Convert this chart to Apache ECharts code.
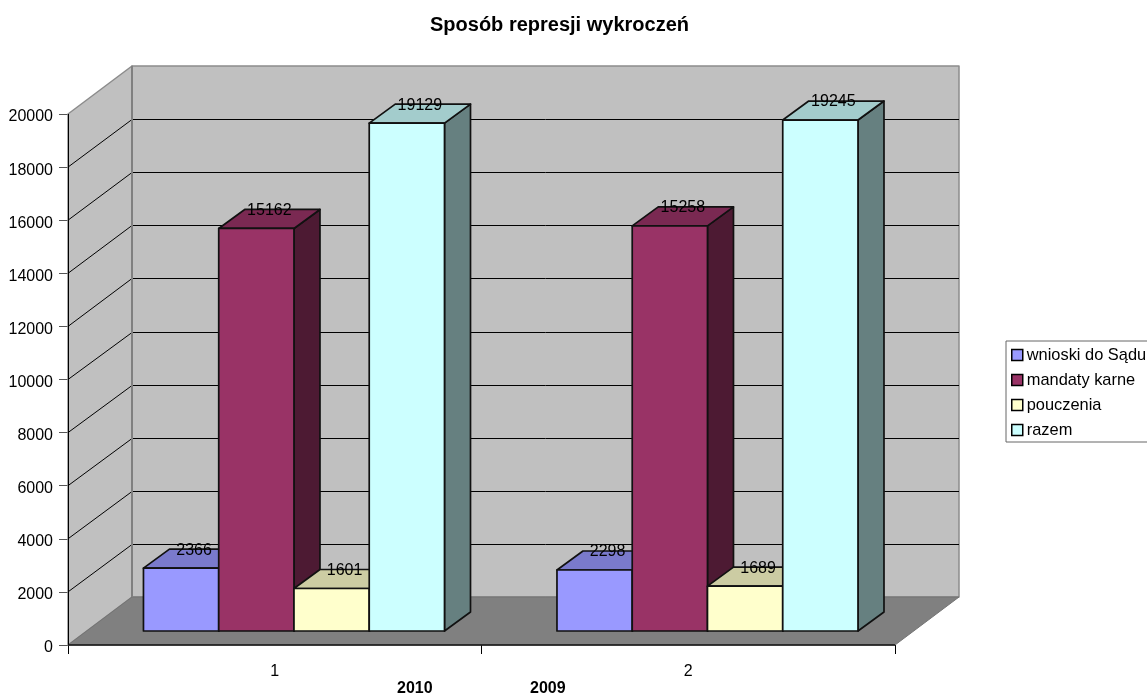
<!DOCTYPE html>
<html><head><meta charset="utf-8">
<style>html,body{margin:0;padding:0;background:#fff}#c{width:1147px;height:696px}</style>
<script src="https://cdn.jsdelivr.net/npm/echarts@6/dist/echarts.min.js"></script>
</head><body><div id="c"></div>
<script>
const categories = ['1', '2'];
const seriesNames = ['wnioski do Sądu', 'mandaty karne', 'pouczenia', 'razem'];
const wnioski = [2366, 2298];
const mandaty = [15162, 15258];
const pouczenia = [1601, 1689];
const razem = [19129, 19245];
const seriesValues = [wnioski, mandaty, pouczenia, razem];
const seriesColors = ['#9999FF', '#993366', '#FFFFCC', '#CCFFFF'];
const yTicks = [0,2000,4000,6000,8000,10000,12000,14000,16000,18000,20000];
const footerLabels = ['2010', '2009'];

const FONT = '"Liberation Sans", Arial, sans-serif';
const WALL = [64, -48];      // wall depth
const BAR_D = [26, -19];     // bar depth
const BAR_FLOOR = [19, -14]; // bar front plane relative to chart front
const GROUP_START = 0.1825, BAR_W = 0.182;

function shade(hex, f) {
  const n = parseInt(hex.slice(1), 16);
  const c = [n >> 16 & 255, n >> 8 & 255, n & 255].map(v => Math.round(v * f));
  return 'rgb(' + c.join(',') + ')';
}
function poly(points, fill, stroke, lw) {
  return {type: 'polygon', shape: {points}, style: {fill, stroke, lineWidth: lw, lineJoin: 'round'}};
}
function line(p, q, stroke, lw) {
  return {type: 'line', shape: {x1: p[0], y1: p[1], x2: q[0], y2: q[1]}, style: {stroke, lineWidth: lw}};
}
function shift(p, d) { return [p[0] + d[0], p[1] + d[1]]; }
function snap(v) { return Math.round(v) + 0.5; }

function renderWalls(params, api) {
  const band = api.size([1, 0])[0];
  const o = api.coord([0, 0]); o[0] -= band / 2;
  const top = api.coord([0, 20000]); top[0] = o[0];
  const r = [o[0] + band * categories.length, o[1]];
  const oB = shift(o, WALL), topB = shift(top, WALL), rB = shift(r, WALL);
  const rtB = [rB[0], topB[1]];
  const g = [];
  g.push(poly([topB, rtB, rB, oB], '#C0C0C0', '#8C8C8C', 1.5));
  g.push(poly([top, topB, oB, o], '#C0C0C0', '#8C8C8C', 1.5));
  g.push(poly([o, oB, rB, r], '#808080', '#737373', 1));
  yTicks.slice(1, -1).forEach(v => {
    const a = api.coord([0, v]); a[0] = o[0];
    const b = shift(a, WALL);
    b[1] = snap(b[1]);
    g.push(line(a, b, '#000', 1));
    g.push(line(b, [rB[0], b[1]], '#000', 1));
  });
  g.push(line(oB, topB, '#808080', 2));
  g.push(line([snap(o[0]), o[1]], [snap(o[0]), top[1]], '#000', 1));
  g.push(line(o, r, '#111', 1.5));
  return {type: 'group', children: g};
}

function makeRender(idx) {
  return function (params, api) {
    const cat = api.value(0), val = api.value(1);
    const band = api.size([1, 0])[0];
    const c = api.coord([cat, 0]);
    const t = api.coord([cat, val]);
    const x0 = c[0] - band / 2 + band * (GROUP_START + idx * BAR_W);
    const w = band * BAR_W;
    const fb = [x0, c[1] + BAR_FLOOR[1]], fbr = [x0 + w, fb[1]];
    const ft = [x0, t[1] + BAR_FLOOR[1]], ftr = [x0 + w, ft[1]];
    const col = seriesColors[idx];
    const stroke = '#111';
    return {type: 'group', children: [
      poly([ftr, shift(ftr, BAR_D), shift(fbr, BAR_D), fbr], shade(col, 0.5), stroke, 1.7),
      poly([ft, shift(ft, BAR_D), shift(ftr, BAR_D), ftr], shade(col, 0.8), stroke, 1.7),
      poly([ft, ftr, fbr, fb], col, stroke, 1.7),
      {type: 'text', z2: 50, style: {text: String(val), x: x0 + w / 2 + BAR_D[0] / 2, y: ft[1] + BAR_D[1] + 1,
        align: 'center', verticalAlign: 'middle', font: '16px ' + FONT, fill: '#000'}}
    ]};
  };
}

const chart = echarts.init(document.getElementById('c'), null, {renderer: 'canvas'});
chart.setOption({
  animation: false,
  backgroundColor: '#fff',
  title: {text: 'Sposób represji wykroczeń', left: 430, top: 15, padding: 0,
    textStyle: {fontFamily: FONT, fontSize: 20, fontWeight: 'bold', color: '#000'}},
  legend: {
    orient: 'vertical', left: 1006, top: 341, itemWidth: 11, itemHeight: 11, itemGap: 7,
    padding: [5, 2, 3, 5], borderColor: '#666', borderWidth: 1, backgroundColor: '#fff',
    icon: 'rect', data: seriesNames,
    itemStyle: {borderColor: '#000', borderWidth: 1.5},
    textStyle: {fontFamily: FONT, fontSize: 16.4, color: '#000', padding: [0, 0, 0, -1], height: 18, lineHeight: 18}
  },
  grid: {left: 68, top: 114, width: 827, height: 531, containLabel: false},
  xAxis: {type: 'category', data: categories, boundaryGap: true,
    axisLine: {show: false},
    axisTick: {show: true, length: 9, lineStyle: {color: '#000'}},
    axisLabel: {margin: 19, fontFamily: FONT, fontSize: 16, color: '#000'}},
  yAxis: {type: 'value', min: 0, max: 20000, interval: 2000,
    axisLine: {show: false}, splitLine: {show: false},
    axisTick: {show: true, length: 9, lineStyle: {color: '#555'}},
    axisLabel: {margin: 15, fontFamily: FONT, fontSize: 16, color: '#000', verticalAlign: 'top', lineHeight: 6,
      formatter: v => String(v)}},
  graphic: footerLabels.map((t, i) => ({type: 'text', left: 397 + i * 133, top: 681,
    style: {text: t, font: 'bold 16px ' + FONT, fill: '#000'}})),
  series: [
    {type: 'custom', name: 'walls', data: [[0, 0]], renderItem: renderWalls, z: 1, silent: true, clip: false,
      encode: {x: 0, y: 1}},
    ...seriesNames.map((name, i) => ({
      type: 'custom', name, z: 3 + i, clip: false,
      itemStyle: {color: seriesColors[i]},
      data: categories.map((_, k) => [k, seriesValues[i][k]]),
      encode: {x: 0, y: 1},
      renderItem: makeRender(i)
    }))
  ]
});
</script></body></html>
